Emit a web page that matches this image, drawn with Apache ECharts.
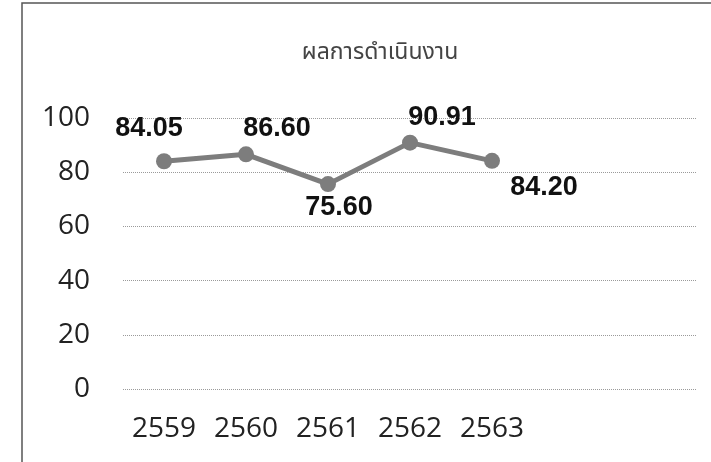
<!DOCTYPE html>
<html>
<head>
<meta charset="utf-8">
<script src="https://cdn.jsdelivr.net/npm/echarts@6/dist/echarts.min.js"></script>
<style>
html,body{margin:0;padding:0;background:#fff;}
#c{width:711px;height:462px;}
</style>
</head>
<body>
<div id="c"></div>
<script>
var title = 'ผลการดำเนินงาน';
var categories = ['2559', '2560', '2561', '2562', '2563'];
var values = [84.05, 86.60, 75.60, 90.91, 84.20];
var valueLabels = ['84.05', '86.60', '75.60', '90.91', '84.20'];
var yTicks = [0, 20, 40, 60, 80, 100];

// label placement (Excel-style manual positions)
var labelOffsets = [[-15, -33], [31, -26], [11, 23], [32, -25], [52, 27]];

// axis spans 7 category slots; only the first five hold data
var axisCats = categories.concat(['', '']);

var chart = echarts.init(document.getElementById('c'), null, {renderer: 'canvas'});
var seriesData = values.map(function (v, i) {
  return {
    value: v,
    label: {
      show: true,
      position: 'inside',
      offset: labelOffsets[i],
      formatter: valueLabels[i]
    }
  };
});

chart.setOption({
  animation: false,
  backgroundColor: '#ffffff',
  title: {
    text: title,
    left: 375,
    top: 38,
    textAlign: 'center',
    textStyle: {
      fontFamily: '"Noto Sans Thai", Tahoma, "Noto Sans", sans-serif',
      fontSize: 23,
      fontWeight: 'normal',
      color: '#444'
    }
  },
  graphic: [{
    type: 'rect',
    shape: {x: 22, y: 3, width: 720, height: 480},
    style: {fill: 'none', stroke: '#555', lineWidth: 1.5},
    silent: true
  }],
  grid: {left: 123, right: 14, top: 118, bottom: 73},
  xAxis: {
    type: 'category',
    data: axisCats,
    boundaryGap: true,
    axisLine: {show: false},
    axisTick: {show: false},
    axisLabel: {
      interval: 0,
      margin: 26,
      fontFamily: '"Open Sans", sans-serif',
      fontSize: 28,
      color: '#222'
    },
    splitLine: {show: false}
  },
  yAxis: {
    type: 'value',
    min: yTicks[0],
    max: yTicks[yTicks.length - 1],
    interval: yTicks[1] - yTicks[0],
    axisLine: {show: false},
    axisTick: {show: false},
    axisLabel: {
      margin: 33,
      fontFamily: '"Open Sans", sans-serif',
      fontSize: 28,
      color: '#222'
    },
    splitLine: {lineStyle: {type: 'dotted', color: '#9a9a9a', width: 1}}
  },
  series: [{
    type: 'line',
    data: seriesData,
    symbol: 'circle',
    symbolSize: 16,
    lineStyle: {color: '#7d7d7d', width: 5},
    itemStyle: {color: '#7d7d7d'},
    label: {
      fontFamily: '"Liberation Sans", Arial, sans-serif',
      fontWeight: 'bold',
      fontSize: 27,
      color: '#111'
    }
  }]
});
</script>
</body>
</html>
